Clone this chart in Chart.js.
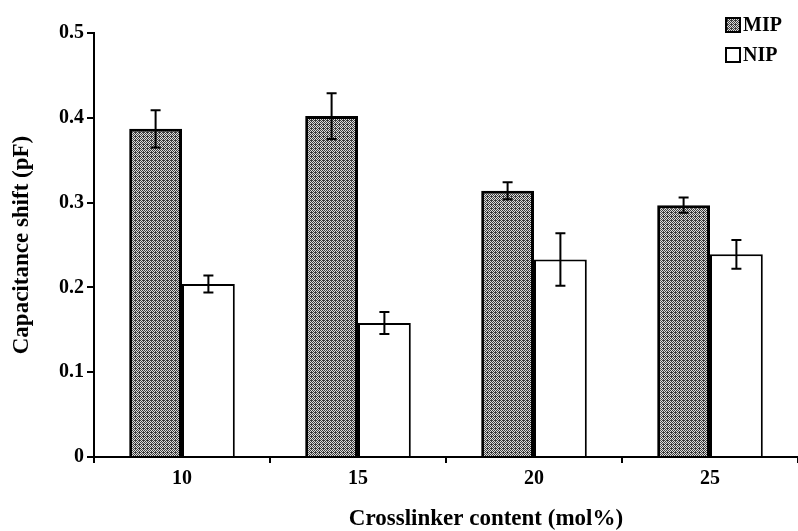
<!DOCTYPE html>
<html>
<head>
<meta charset="utf-8">
<script src="https://cdn.jsdelivr.net/npm/chart.js@4"></script>
<style>
  html, body { margin: 0; padding: 0; background: #fff; overflow: hidden; }
</style>
</head>
<body>
<canvas id="capChart" width="798" height="531"></canvas>
<script>
// data
var crosslinker = ['10', '15', '20', '25'];
var mipShift = [0.387, 0.402, 0.314, 0.297];
var mipErr = [0.022, 0.027, 0.010, 0.009];
var nipShift = [0.204, 0.158, 0.233, 0.239];
var nipErr = [0.010, 0.013, 0.031, 0.017];
var yTickLabels = ['0', '0.1', '0.2', '0.3', '0.4', '0.5'];

var serif = '"Liberation Serif", "Times New Roman", serif';

// dotted grey texture for the MIP bars
function makeTexture() {
    var c = document.createElement('canvas');
    c.width = 4; c.height = 4;
    var g = c.getContext('2d');
    g.fillStyle = '#dcdcdc';
    g.fillRect(0, 0, 4, 4);
    g.fillStyle = '#3c3c3c';
    var dots = [[0,0],[2,0],[1,1],[3,1],[0,2],[2,2],[1,3],[3,3],[3,0]];
    dots.forEach(function (d) { g.fillRect(d[0], d[1], 1, 1); });
    return g.createPattern(c, 'repeat');
}

var errorBars = {
    id: 'errorBars',
    afterDatasetsDraw: function (chart) {
        var ctx = chart.ctx;
        var y = chart.scales.y;
        var errs = [mipErr, nipErr];
        ctx.save();
        ctx.strokeStyle = '#000';
        ctx.lineWidth = 2;
        chart.data.datasets.forEach(function (ds, i) {
            var meta = chart.getDatasetMeta(i);
            meta.data.forEach(function (bar, j) {
                var v = ds.data[j], e = errs[i][j];
                var top = y.getPixelForValue(v + e);
                var bot = y.getPixelForValue(v - e);
                var x = bar.x;
                ctx.beginPath();
                ctx.moveTo(x, top); ctx.lineTo(x, bot);
                ctx.moveTo(x - 5, top); ctx.lineTo(x + 5, top);
                ctx.moveTo(x - 5, bot); ctx.lineTo(x + 5, bot);
                ctx.stroke();
            });
        });
        ctx.restore();
    }
};

var extras = {
    id: 'extras',
    afterDraw: function (chart) {
        var ctx = chart.ctx;
        ctx.save();
        // legend
        ctx.font = 'bold 20px ' + serif;
        ctx.textBaseline = 'middle';
        ctx.textAlign = 'left';
        chart.data.datasets.forEach(function (ds, i) {
            var cy = 25 + i * 30;
            ctx.fillStyle = ds.backgroundColor;
            ctx.fillRect(726, cy - 7, 14, 14);
            ctx.strokeStyle = '#000';
            ctx.lineWidth = 2;
            ctx.strokeRect(726, cy - 7, 14, 14);
            ctx.fillStyle = '#000';
            ctx.fillText(ds.label, 743, cy + 1);
        });
        // x axis title
        ctx.font = 'bold 23px ' + serif;
        ctx.textAlign = 'center';
        ctx.fillText('Crosslinker content (mol%)', 486, 519);
        ctx.restore();
    }
};

var ctx = document.getElementById('capChart').getContext('2d');
var capChart = new Chart(ctx, {
    type: 'bar',
    data: {
        labels: crosslinker,
        datasets: [{
            label: 'MIP',
            data: mipShift,
            backgroundColor: makeTexture(),
            borderColor: '#000',
            borderWidth: 3,
            barPercentage: 1,
            categoryPercentage: 0.6
        }, {
            label: 'NIP',
            data: nipShift,
            backgroundColor: '#fff',
            borderColor: '#000',
            borderWidth: 2,
            barPercentage: 1,
            categoryPercentage: 0.6
        }]
    },
    options: {
        responsive: false,
        animation: false,
        layout: { padding: { top: 33, right: 0, left: 0, bottom: 0 } },
        plugins: {
            legend: { display: false },
            tooltip: { enabled: false }
        },
        scales: {
            x: {
                grid: { display: true, drawOnChartArea: false, color: '#000', lineWidth: 2, tickLength: 6 },
                border: { display: true, color: '#000', width: 2 },
                ticks: { color: '#000', font: { family: serif, size: 20, weight: 'bold' }, padding: 4 },
                afterFit: function (scale) { scale.height = 74; }
            },
            y: {
                min: 0,
                max: 0.5,
                ticks: {
                    stepSize: 0.1,
                    color: '#000',
                    padding: 3,
                    font: { family: serif, size: 20, weight: 'bold' },
                    callback: function (v, i) { return yTickLabels[i]; }
                },
                grid: { display: true, drawOnChartArea: false, color: '#000', lineWidth: 2, tickLength: 7 },
                border: { display: true, color: '#000', width: 2 },
                title: {
                    display: true,
                    text: 'Capacitance shift (pF)',
                    color: '#000',
                    font: { family: serif, size: 23, weight: 'bold' },
                    padding: { top: 8, bottom: 0 }
                },
                afterFit: function (scale) { scale.width = 94; }
            }
        }
    },
    plugins: [errorBars, extras]
});
</script>
</body>
</html>
